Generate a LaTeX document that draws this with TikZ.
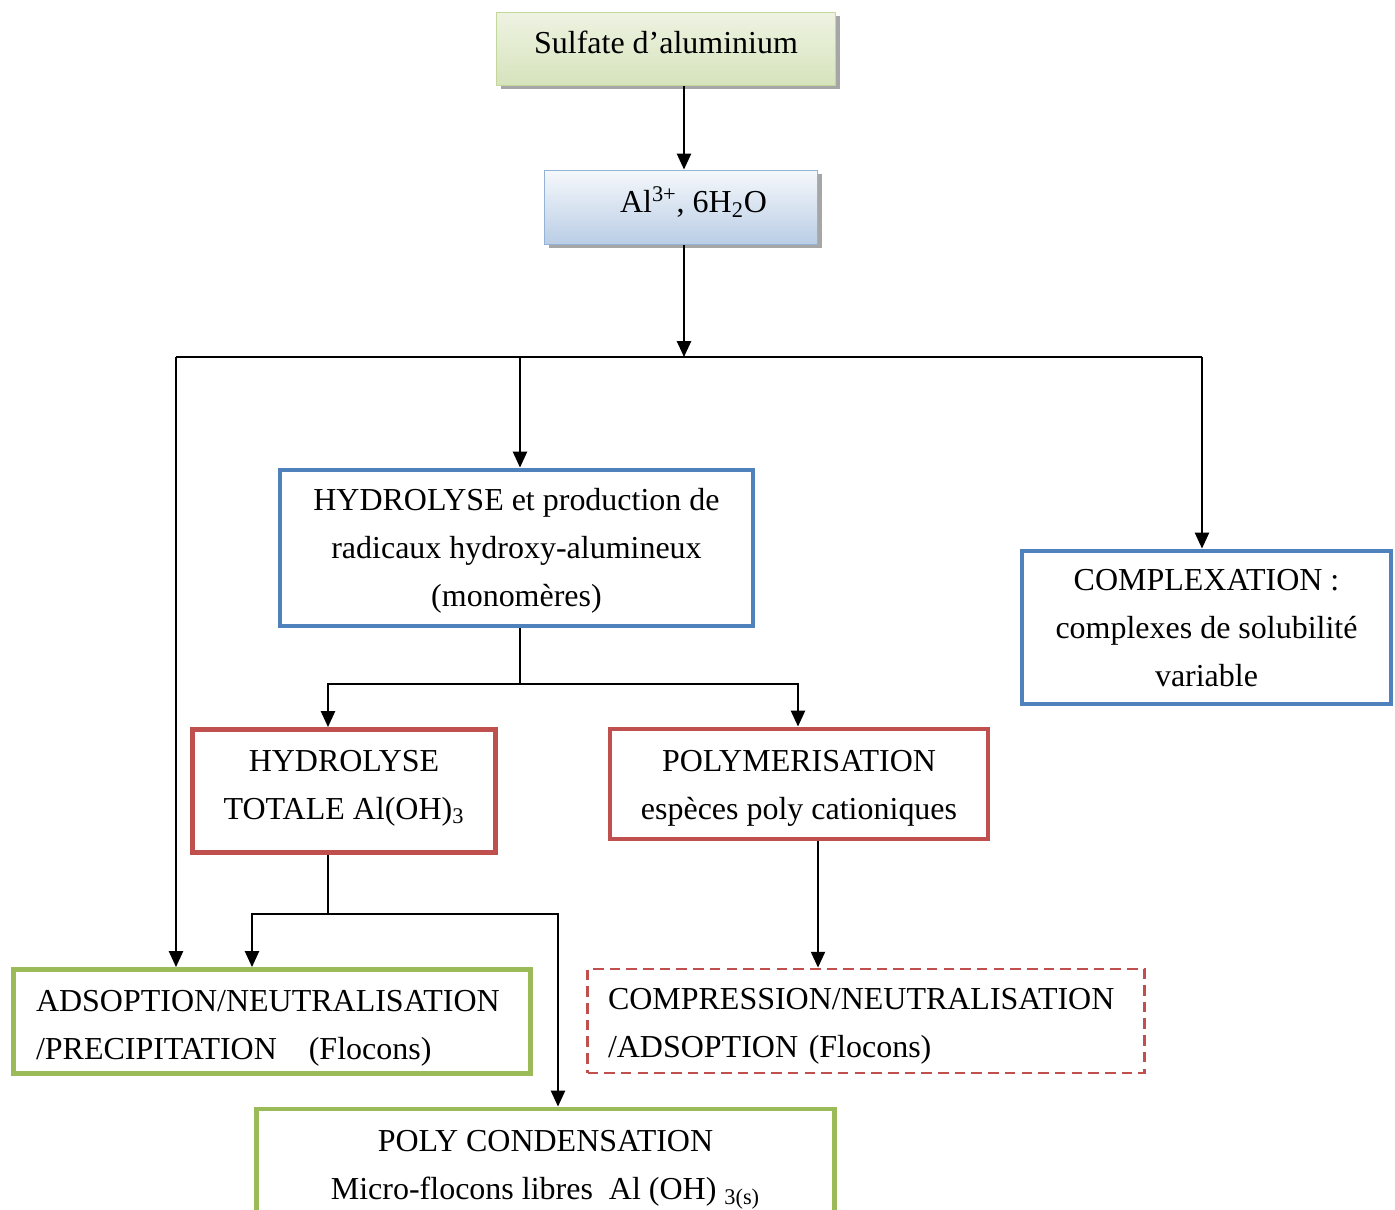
\documentclass[tikz,border=0pt]{standalone}
\usepackage{fontspec}
\setmainfont{Liberation Serif}
\usepackage{xcolor}
\usepackage{tikz}
\usetikzlibrary{arrows.meta, positioning, calc, shadows}

\definecolor{blueline}{HTML}{4F81BD}
\definecolor{redline}{HTML}{C0504D}
\definecolor{greenline}{HTML}{9BBB59}
\definecolor{paletop}{HTML}{EEF3E2}
\definecolor{palebot}{HTML}{D6E3BC}
\definecolor{paleedge}{HTML}{C3D69B}
\definecolor{skytop}{HTML}{F5F8FB}
\definecolor{skybot}{HTML}{B9CDE5}
\definecolor{skyedge}{HTML}{95B3D7}

\begin{document}
\begin{tikzpicture}[
    every node/.style={font=\fontsize{18.2}{27.3}\selectfont},
    boxtext/.style={inner sep=0pt, align=center},
    topbox/.style={rectangle, draw, line width=1.1pt, inner sep=0pt,
        drop shadow={shadow xshift=0.08cm, shadow yshift=-0.08cm, fill=black, opacity=0.35}},
    stepbox/.style={rectangle, draw, line width=2.8pt, inner sep=0pt},
    dashbox/.style={rectangle, draw=redline, line width=1.6pt, dash pattern=on 6pt off 3.5pt, inner sep=0pt},
    arrow/.style={-{Triangle[width=8pt,length=9pt]}, line width=1.1pt},
    link/.style={line width=1.1pt}
]
    \useasboundingbox (0,0) rectangle (27.9,-24.2);

    % --- Source ---
    \node[topbox, draw=paleedge, top color=paletop, bottom color=palebot,
        minimum width=6.78cm, minimum height=1.46cm,
        label={[boxtext, yshift=0.14cm]center:Sulfate d’aluminium}] (sulfate) at (13.32,-0.98) {};
    \node[topbox, draw=skyedge, top color=skytop, bottom color=skybot,
        minimum width=5.46cm, minimum height=1.48cm,
        label={[boxtext, xshift=0.25cm, yshift=0.1cm]center:Al\textsuperscript{3+}, 6H\textsubscript{2}O}] (ion) at (13.62,-4.15) {};

    % --- Split line ---
    \coordinate (hub) at (13.68,-7.14);
    \coordinate (lft) at (3.52,-7.14);
    \coordinate (mid) at (10.4,-7.14);
    \coordinate (rgt) at (24.04,-7.14);

    % --- Second level ---
    \node[stepbox, draw=blueline, minimum width=9.46cm, minimum height=3.12cm,
        label={[boxtext, yshift=-0.06cm]center:{HYDROLYSE et production de\\radicaux hydroxy-alumineux\\(monomères)}}] (hydro) at (10.33,-10.96) {};
    \node[stepbox, draw=blueline, minimum width=7.38cm, minimum height=3.06cm,
        label={[boxtext, yshift=-0.02cm]center:{COMPLEXATION :\\complexes de solubilité\\variable}}] (complex) at (24.13,-12.55) {};

    % --- Third level ---
    \coordinate (fork) at (10.4,-13.68);
    \node[stepbox, draw=redline, minimum width=6.06cm, minimum height=2.46cm,
        label={[boxtext, yshift=0.06cm]center:{HYDROLYSE\\TOTALE Al(OH)\textsubscript{3}}}] (total) at (6.88,-15.82) {};
    \node[stepbox, draw=redline, minimum width=7.56cm, minimum height=2.2cm,
        label={[boxtext, yshift=-0.08cm]center:{POLYMERISATION\\espèces poly cationiques}}] (polym) at (15.98,-15.68) {};

    % --- Products ---
    \coordinate (split) at (6.56,-18.28);
    \node[stepbox, draw=greenline, minimum width=10.34cm, minimum height=2.08cm,
        label={[boxtext, align=left, text width=9.44cm, yshift=-0.14cm]center:{ADSOPTION/NEUTRALISATION\\/PRECIPITATION\quad(Flocons)}}] (adsorb) at (5.44,-20.43) {};
    \node[dashbox, minimum width=11.14cm, minimum height=2.08cm,
        label={[boxtext, align=left, text width=10.32cm, yshift=-0.1cm]center:{COMPRESSION/NEUTRALISATION\\/ADSOPTION (Flocons)}}] (compress) at (17.32,-20.42) {};
    \node[stepbox, draw=greenline, minimum width=11.56cm, minimum height=2.1cm,
        label={[boxtext, yshift=-0.16cm]center:{POLY CONDENSATION\\Micro-flocons libres\ \ Al (OH) \textsubscript{3(s)}}}] (condens) at (10.91,-23.23) {};

    % --- Flow Arrows ---
    \draw[arrow] (sulfate.south -| hub) -- (ion.north -| hub);
    \draw[arrow] (ion.south -| hub) -- (hub);
    \draw[link] (lft) -- (rgt);
    \draw[arrow] (lft) -- (adsorb.north -| lft);
    \draw[arrow] (mid) -- (hydro.north -| mid);
    \draw[arrow] (rgt) -- (complex.north -| rgt);

    % Hydrolyse -> two branches
    \draw[link] (hydro.south -| fork) -- (fork);
    \draw[arrow] (fork) -| (total.north -| 6.56,0);
    \draw[arrow] (fork) -| (polym.north -| 15.96,0);

    % Hydrolyse totale -> products
    \draw[link] (total.south -| split) -- (split);
    \draw[arrow] (split) -| (adsorb.north -| 5.04,0);
    \draw[arrow] (split) -| (condens.north -| 11.16,0);

    % Polymerisation -> compression
    \draw[arrow] (polym.south -| 16.36,0) -- (compress.north -| 16.36,0);

\end{tikzpicture}
\end{document}
